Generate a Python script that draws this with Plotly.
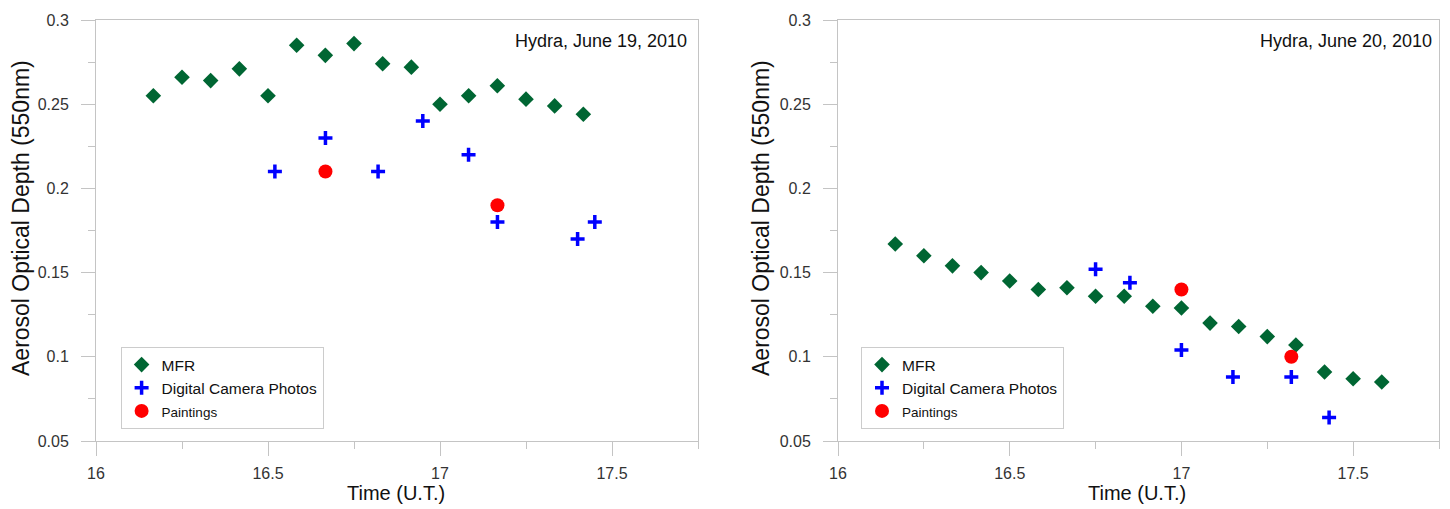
import plotly.graph_objects as go

# ---------------- data ----------------
# Left panel: Hydra, June 19, 2010
mfr_t_19 = [16.1667, 16.25, 16.3333, 16.4167, 16.5, 16.5833, 16.6667, 16.75,
            16.8333, 16.9167, 17.0, 17.0833, 17.1667, 17.25, 17.3333, 17.4167]
mfr_v_19 = [0.255, 0.266, 0.264, 0.271, 0.255, 0.285, 0.279, 0.286,
            0.274, 0.272, 0.250, 0.255, 0.261, 0.253, 0.249, 0.244]
cam_t_19 = [16.52, 16.667, 16.82, 16.95, 17.083, 17.167, 17.40, 17.45]
cam_v_19 = [0.21, 0.23, 0.21, 0.24, 0.22, 0.18, 0.17, 0.18]
pnt_t_19 = [16.667, 17.167]
pnt_v_19 = [0.21, 0.19]

# Right panel: Hydra, June 20, 2010
mfr_t_20 = [16.1667, 16.25, 16.3333, 16.4167, 16.5, 16.5833, 16.6667, 16.75, 16.8333,
            16.9167, 17.0, 17.0833, 17.1667, 17.25, 17.3333, 17.4167, 17.5, 17.5833]
mfr_v_20 = [0.167, 0.160, 0.154, 0.150, 0.145, 0.140, 0.141, 0.136, 0.136,
            0.130, 0.129, 0.120, 0.118, 0.112, 0.107, 0.091, 0.087, 0.085]
cam_t_20 = [16.75, 16.85, 17.0, 17.15, 17.32, 17.43]
cam_v_20 = [0.152, 0.144, 0.104, 0.088, 0.088, 0.064]
pnt_t_20 = [17.0, 17.32]
pnt_v_20 = [0.140, 0.100]

x_ticks = [16, 16.5, 17, 17.5]
x_tick_labels = ["16", "16.5", "17", "17.5"]
y_ticks = [0.05, 0.1, 0.15, 0.2, 0.25, 0.3]
y_tick_labels = ["0.05", "0.1", "0.15", "0.2", "0.25", "0.3"]

titles = ["Hydra, June 19, 2010", "Hydra, June 20, 2010"]
series_names = ["MFR", "Digital Camera Photos", '<span style="font-size:13.5px">Paintings</span>']

# ---------------- styles ----------------
GREEN = "#006633"
BLUE = "#0000ff"
RED = "#ff0000"
FONT = "Liberation Sans, Arial, sans-serif"
AXIS_GRAY = "#c4c4c4"

W, H = 1450, 509
ML, MR, MT, MB = 96, 11, 20, 68
PW = W - ML - MR
PH = H - MT - MB


def px_x(p):
    return (p - ML) / PW


def px_y(p):
    return (H - MB - p) / PH


fig = go.Figure()

panels = [
    ("x", "y", "legend", mfr_t_19, mfr_v_19, cam_t_19, cam_v_19, pnt_t_19, pnt_v_19),
    ("x2", "y2", "legend2", mfr_t_20, mfr_v_20, cam_t_20, cam_v_20, pnt_t_20, pnt_v_20),
]

for xa, ya, lg, mt, mv, ct, cv, pt, pv in panels:
    fig.add_trace(go.Scatter(
        x=mt, y=mv, mode="markers", name=series_names[0], xaxis=xa, yaxis=ya, legend=lg,
        marker=dict(symbol="diamond", size=12, color=GREEN, line=dict(width=0)),
    ))
    fig.add_trace(go.Scatter(
        x=ct, y=cv, mode="markers", name=series_names[1], xaxis=xa, yaxis=ya, legend=lg,
        marker=dict(symbol="cross-thin", size=10, color=BLUE, line=dict(width=3.5, color=BLUE)),
    ))
    fig.add_trace(go.Scatter(
        x=pt, y=pv, mode="markers", name=series_names[2], xaxis=xa, yaxis=ya, legend=lg,
        marker=dict(symbol="circle", size=14, color=RED, line=dict(width=0)),
    ))

left_dom = [0, px_x(698)]
right_dom = [px_x(838), 1]

xaxis_common = dict(
    range=[16, 17.75], tickvals=x_ticks, ticktext=x_tick_labels,
    showline=True, linecolor=AXIS_GRAY, linewidth=1, mirror=True,
    ticks="outside", ticklen=14, tickcolor=AXIS_GRAY, tickwidth=1,
    minor=dict(dtick=0.25, tick0=16, ticks="outside", ticklen=7, tickcolor=AXIS_GRAY, showgrid=False),
    showgrid=False, zeroline=False, ticklabelstandoff=4,
    tickfont=dict(family=FONT, size=16, color="#333333"),
)
yaxis_common = dict(
    range=[0.05, 0.3], tickvals=y_ticks, ticktext=y_tick_labels,
    showline=True, linecolor=AXIS_GRAY, linewidth=1, mirror=True,
    ticks="outside", ticklen=14, tickcolor=AXIS_GRAY, tickwidth=1,
    minor=dict(dtick=0.025, tick0=0.05, ticks="outside", ticklen=7, tickcolor=AXIS_GRAY, showgrid=False),
    showgrid=False, zeroline=False, ticklabelstandoff=9,
    tickfont=dict(family=FONT, size=16, color="#333333"),
)

legend_common = dict(
    bgcolor="white", bordercolor="#cccccc", borderwidth=1,
    font=dict(family=FONT, size=15.5, color="#111111"),
    xanchor="left", yanchor="top", itemwidth=30, tracegroupgap=0,
)

annotations = []
for i, (xr, yr, tx) in enumerate([("x", "y", 17.724), ("x2", "y2", 17.736)]):
    annotations.append(dict(
        text=titles[i], xref=xr, yref=yr, x=tx, y=0.2877, xanchor="right", yanchor="middle",
        showarrow=False, font=dict(family=FONT, size=18, color="#111111"),
    ))
for cx in [396, 1137]:
    annotations.append(dict(
        text="Time (U.T.)", xref="paper", yref="paper", x=px_x(cx), y=px_y(493),
        xanchor="center", yanchor="middle", showarrow=False,
        font=dict(family=FONT, size=20, color="#111111"),
    ))
for cx in [21, 761]:
    annotations.append(dict(
        text="Aerosol Optical Depth (550nm)", xref="paper", yref="paper", x=px_x(cx), y=px_y(218),
        xanchor="center", yanchor="middle", textangle=-90, showarrow=False,
        font=dict(family=FONT, size=23, color="#111111"),
    ))

fig.update_layout(
    width=W, height=H,
    margin=dict(l=ML, r=MR, t=MT, b=MB),
    paper_bgcolor="white", plot_bgcolor="white",
    font=dict(family=FONT),
    xaxis=dict(domain=left_dom, anchor="y", **xaxis_common),
    yaxis=dict(anchor="x", **yaxis_common),
    xaxis2=dict(domain=right_dom, anchor="y2", **xaxis_common),
    yaxis2=dict(anchor="x2", **yaxis_common),
    legend=dict(x=px_x(120.6), y=px_y(347), **legend_common),
    legend2=dict(x=px_x(861), y=px_y(347), **legend_common),
    annotations=annotations,
    showlegend=True,
)

fig.write_html("out.html")
